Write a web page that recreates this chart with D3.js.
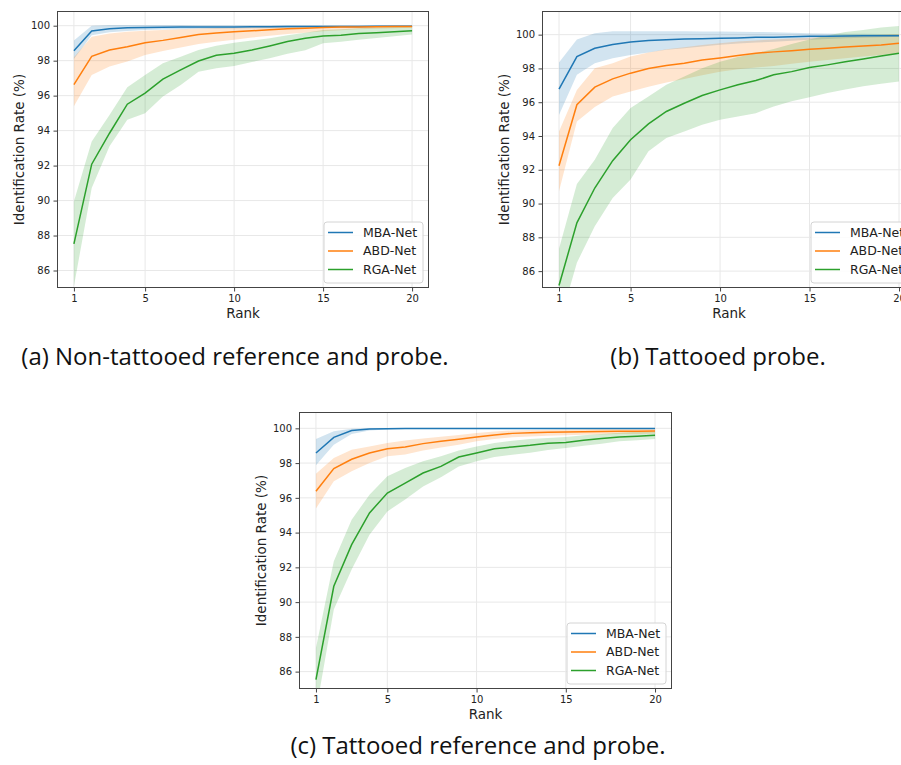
<!DOCTYPE html>
<html lang="en">
<head>
<meta charset="utf-8">
<script src="https://d3js.org/d3.v7.min.js"></script>
<style>
  body { margin: 0; background: #fff; }
  svg text { font-family: "DejaVu Sans", sans-serif; fill: #222; }
  .caption { font-family: "Open Sans", sans-serif; font-size: 24px; fill: #111; }
  .grid line { stroke: #e8e8e8; stroke-width: 1; }
  .tick line { stroke: #444; }
  .tick text { font-size: 10px; }
</style>
</head>
<body>
<svg width="901" height="765"></svg>
<script>
// ranks and axis ticks
var ranks = [1, 2, 3, 4, 5, 6, 7, 8, 9, 10, 11, 12, 13, 14, 15, 16, 17, 18, 19, 20];
var xTicks = [1, 5, 10, 15, 20];
var yTicks = [86, 88, 90, 92, 94, 96, 98, 100];
var methods = ["MBA-Net", "ABD-Net", "RGA-Net"];
var colors = ["#1f77b4", "#ff7f0e", "#2ca02c"];

// (a) non-tattooed reference and probe
var aMbaMean = [98.57, 99.70, 99.83, 99.88, 99.90, 99.91, 99.92, 99.92, 99.93, 99.93, 99.94, 99.94, 99.95, 99.95, 99.96, 99.96, 99.96, 99.97, 99.97, 99.97];
var aMbaLow  = [98.10, 99.45, 99.62, 99.70, 99.75, 99.78, 99.80, 99.82, 99.83, 99.84, 99.85, 99.86, 99.87, 99.88, 99.89, 99.90, 99.90, 99.91, 99.91, 99.92];
var aMbaHigh = [99.15, 100.0, 100.04, 100.04, 100.04, 100.04, 100.04, 100.03, 100.03, 100.03, 100.03, 100.03, 100.03, 100.02, 100.02, 100.02, 100.02, 100.02, 100.02, 100.02];
var aAbdMean = [96.63, 98.25, 98.61, 98.80, 99.03, 99.16, 99.32, 99.50, 99.58, 99.66, 99.71, 99.77, 99.83, 99.86, 99.90, 99.92, 99.93, 99.94, 99.95, 99.96];
var aAbdLow  = [95.40, 97.18, 97.66, 97.95, 98.33, 98.55, 98.75, 98.95, 99.08, 99.20, 99.32, 99.42, 99.52, 99.60, 99.68, 99.74, 99.79, 99.83, 99.86, 99.88];
var aAbdHigh = [98.20, 99.37, 99.56, 99.65, 99.71, 99.76, 99.80, 99.84, 99.87, 99.90, 99.92, 99.94, 99.96, 99.97, 99.98, 99.99, 100.0, 100.0, 100.0, 100.0];
var aRgaMean = [87.52, 92.08, 93.85, 95.51, 96.14, 96.94, 97.47, 97.98, 98.31, 98.42, 98.61, 98.84, 99.09, 99.28, 99.41, 99.45, 99.56, 99.60, 99.66, 99.71];
var aRgaLow  = [85.10, 90.72, 93.10, 94.62, 95.00, 95.95, 96.61, 97.37, 97.56, 97.70, 97.92, 98.14, 98.40, 98.60, 98.99, 99.08, 99.20, 99.30, 99.40, 99.49];
var aRgaHigh = [89.95, 93.38, 94.90, 96.48, 97.18, 97.85, 98.23, 98.61, 98.86, 99.03, 99.15, 99.28, 99.45, 99.60, 99.75, 99.80, 99.85, 99.90, 99.92, 99.94];

// (b) tattooed probe
var bMbaMean = [96.77, 98.70, 99.19, 99.41, 99.57, 99.65, 99.70, 99.74, 99.76, 99.78, 99.80, 99.84, 99.85, 99.87, 99.90, 99.91, 99.92, 99.93, 99.93, 99.94];
var bMbaLow  = [95.25, 97.62, 98.30, 98.60, 98.80, 98.95, 99.10, 99.20, 99.30, 99.40, 99.47, 99.53, 99.58, 99.64, 99.70, 99.74, 99.78, 99.82, 99.85, 99.88];
var bMbaHigh = [98.35, 99.72, 100.08, 100.20, 100.20, 100.20, 100.20, 100.20, 100.19, 100.18, 100.17, 100.16, 100.14, 100.11, 100.08, 100.07, 100.06, 100.05, 100.04, 100.04];
var bAbdMean = [92.24, 95.85, 96.89, 97.38, 97.72, 97.99, 98.17, 98.31, 98.50, 98.62, 98.76, 98.90, 98.98, 99.05, 99.13, 99.19, 99.27, 99.33, 99.39, 99.49];
var bAbdLow  = [90.73, 94.86, 95.71, 96.34, 96.63, 96.92, 97.16, 97.37, 97.60, 97.80, 97.95, 98.05, 98.15, 98.28, 98.40, 98.50, 98.60, 98.70, 98.80, 98.90];
var bAbdHigh = [94.27, 96.73, 98.01, 98.30, 98.70, 98.95, 99.13, 99.25, 99.38, 99.49, 99.60, 99.66, 99.72, 99.77, 99.82, 99.87, 99.92, 99.96, 100.0, 100.04];
var bRgaMean = [85.15, 88.86, 90.92, 92.54, 93.78, 94.72, 95.45, 95.94, 96.40, 96.73, 97.03, 97.28, 97.62, 97.81, 98.05, 98.21, 98.39, 98.56, 98.74, 98.90];
var bRgaLow  = [82.80, 86.50, 88.66, 90.33, 91.42, 93.09, 93.88, 94.27, 94.66, 94.96, 95.15, 95.35, 95.75, 96.05, 96.30, 96.55, 96.75, 96.95, 97.10, 97.22];
var bRgaHigh = [87.32, 91.16, 92.60, 94.47, 95.65, 96.34, 97.03, 97.52, 98.01, 98.40, 98.68, 98.90, 99.15, 99.45, 99.72, 99.95, 100.15, 100.28, 100.42, 100.51];

// (c) tattooed reference and probe
var cMbaMean = [98.58, 99.48, 99.87, 99.96, 99.98, 99.99, 99.99, 99.99, 99.99, 99.99, 99.99, 99.99, 99.99, 99.99, 99.99, 99.99, 99.99, 99.99, 99.99, 99.99];
var cMbaLow  = [97.87, 99.06, 99.67, 99.88, 99.94, 99.96, 99.97, 99.97, 99.97, 99.98, 99.98, 99.98, 99.98, 99.98, 99.98, 99.98, 99.98, 99.98, 99.98, 99.98];
var cMbaHigh = [99.39, 99.83, 99.98, 100.0, 100.01, 100.01, 100.01, 100.01, 100.01, 100.01, 100.01, 100.01, 100.01, 100.01, 100.01, 100.01, 100.01, 100.01, 100.01, 100.01];
var cAbdMean = [96.38, 97.68, 98.22, 98.58, 98.83, 98.93, 99.12, 99.25, 99.37, 99.50, 99.62, 99.71, 99.75, 99.77, 99.79, 99.81, 99.82, 99.83, 99.83, 99.84];
var cAbdLow  = [95.38, 96.95, 97.53, 98.00, 98.39, 98.50, 98.72, 98.90, 99.05, 99.25, 99.38, 99.48, 99.53, 99.57, 99.60, 99.63, 99.65, 99.67, 99.68, 99.70];
var cAbdHigh = [97.39, 98.29, 98.77, 98.96, 99.16, 99.30, 99.42, 99.52, 99.62, 99.73, 99.82, 99.88, 99.90, 99.92, 99.94, 99.95, 99.96, 99.97, 99.97, 99.98];
var cRgaMean = [85.54, 90.91, 93.31, 95.13, 96.28, 96.85, 97.43, 97.81, 98.35, 98.58, 98.83, 98.93, 99.02, 99.14, 99.19, 99.31, 99.41, 99.50, 99.54, 99.60];
var cRgaLow  = [83.70, 89.57, 91.87, 93.88, 95.22, 95.90, 96.66, 97.18, 97.81, 98.10, 98.35, 98.48, 98.60, 98.75, 98.87, 99.00, 99.12, 99.25, 99.32, 99.39];
var cRgaHigh = [87.36, 92.35, 94.74, 96.18, 97.24, 97.72, 98.10, 98.39, 98.73, 98.96, 99.15, 99.29, 99.38, 99.45, 99.50, 99.60, 99.68, 99.75, 99.80, 99.83];

var svg = d3.select("svg");
svg.append("rect").attr("width", 901).attr("height", 765).attr("fill", "#fff");

var panels = [
  { id: "a", left: 57, top: 11, right: 429, bottom: 288, yTop: 100.84,
    caption: "(a) Non-tattooed reference and probe.", capX: 235, capY: 365,
    series: [[aMbaMean, aMbaLow, aMbaHigh], [aAbdMean, aAbdLow, aAbdHigh], [aRgaMean, aRgaLow, aRgaHigh]] },
  { id: "b", left: 542, top: 11, right: 916, bottom: 288, yTop: 101.4,
    caption: "(b) Tattooed probe.", capX: 718, capY: 365,
    series: [[bMbaMean, bMbaLow, bMbaHigh], [bAbdMean, bAbdLow, bAbdHigh], [bRgaMean, bRgaLow, bRgaHigh]] },
  { id: "c", left: 299, top: 412, right: 672, bottom: 689, yTop: 100.94,
    caption: "(c) Tattooed reference and probe.", capX: 478, capY: 754,
    series: [[cMbaMean, cMbaLow, cMbaHigh], [cAbdMean, cAbdLow, cAbdHigh], [cRgaMean, cRgaLow, cRgaHigh]] }
];

panels.forEach(drawPanel);

function drawPanel(p) {
  var x = d3.scaleLinear().domain([0.05, 20.95]).range([p.left, p.right]);
  var y = d3.scaleLinear().domain([85, p.yTop]).range([p.bottom, p.top]);
  var g = svg.append("g");

  g.append("clipPath").attr("id", "clip-" + p.id)
    .append("rect")
    .attr("x", p.left).attr("y", p.top)
    .attr("width", p.right - p.left).attr("height", p.bottom - p.top);

  // grid
  var grid = g.append("g").attr("class", "grid");
  grid.selectAll(".gx").data(xTicks).enter().append("line")
    .attr("x1", function (d) { return x(d); }).attr("x2", function (d) { return x(d); })
    .attr("y1", p.top).attr("y2", p.bottom);
  grid.selectAll(".gy").data(yTicks).enter().append("line")
    .attr("y1", function (d) { return y(d); }).attr("y2", function (d) { return y(d); })
    .attr("x1", p.left).attr("x2", p.right);

  var plot = g.append("g").attr("clip-path", "url(#clip-" + p.id + ")");

  p.series.forEach(function (s, i) {
    var area = d3.area()
      .x(function (d, k) { return x(ranks[k]); })
      .y0(function (d, k) { return y(s[1][k]); })
      .y1(function (d, k) { return y(s[2][k]); });
    plot.append("path").datum(s[0])
      .attr("d", area)
      .attr("fill", colors[i]).attr("fill-opacity", 0.2);
  });

  p.series.forEach(function (s, i) {
    var line = d3.line()
      .x(function (d, k) { return x(ranks[k]); })
      .y(function (d) { return y(d); });
    plot.append("path").datum(s[0])
      .attr("d", line)
      .attr("fill", "none").attr("stroke", colors[i]).attr("stroke-width", 1.5);
  });

  // axes
  var xAxis = g.append("g").attr("transform", "translate(0," + p.bottom + ")")
    .call(d3.axisBottom(x).tickValues(xTicks).tickSize(3.5).tickPadding(3.5));
  var yAxis = g.append("g").attr("transform", "translate(" + p.left + ",0)")
    .call(d3.axisLeft(y).tickValues(yTicks).tickSize(3.5).tickPadding(3.5));
  xAxis.select(".domain").remove();
  yAxis.select(".domain").remove();
  g.selectAll(".tick text").attr("font-family", null);

  g.append("rect")
    .attr("x", p.left + 0.5).attr("y", p.top + 0.5)
    .attr("width", p.right - p.left - 1).attr("height", p.bottom - p.top - 1)
    .attr("fill", "none").attr("stroke", "#444").attr("stroke-width", 1);

  g.append("text")
    .attr("x", (p.left + p.right) / 2).attr("y", p.bottom + 30)
    .attr("text-anchor", "middle").attr("font-size", 13.5)
    .text("Rank");
  g.append("text")
    .attr("transform", "translate(" + (p.left - 33) + "," + ((p.top + p.bottom) / 2) + ") rotate(-90)")
    .attr("text-anchor", "middle").attr("font-size", 13.5)
    .text("Identification Rate (%)");

  // legend
  var lw = 99, lh = 61;
  var lx = p.right - 6 - lw, ly = p.bottom - 5 - lh;
  var legend = g.append("g").attr("transform", "translate(" + lx + "," + ly + ")");
  legend.append("rect")
    .attr("width", lw).attr("height", lh).attr("rx", 3)
    .attr("fill", "#fff").attr("fill-opacity", 0.85)
    .attr("stroke", "#d4d4d4");
  methods.forEach(function (m, i) {
    var ry = 10.5 + i * 18.5;
    legend.append("line")
      .attr("x1", 4).attr("x2", 29).attr("y1", ry).attr("y2", ry)
      .attr("stroke", colors[i]).attr("stroke-width", 1.5);
    legend.append("text")
      .attr("x", 39).attr("y", ry).attr("dy", "0.35em")
      .attr("font-size", 12.5)
      .text(m);
  });

  svg.append("text").attr("class", "caption")
    .attr("x", p.capX).attr("y", p.capY)
    .attr("text-anchor", "middle")
    .text(p.caption);
}
</script>
</body>
</html>
